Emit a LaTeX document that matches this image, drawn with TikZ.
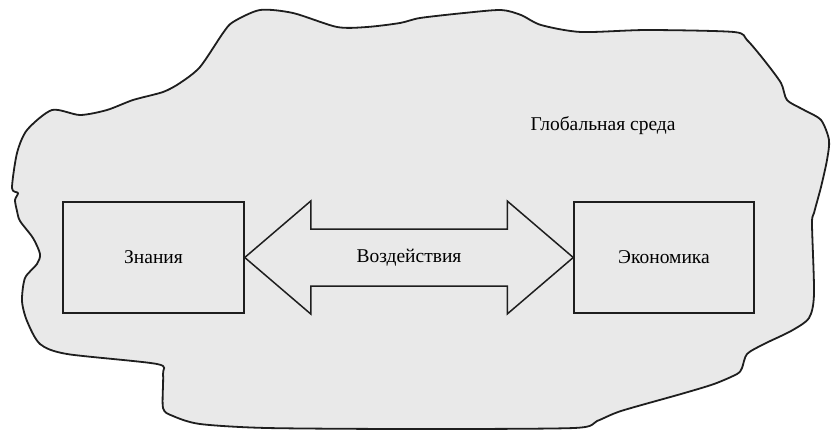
\documentclass[tikz,border=0pt]{standalone}
\usepackage{fontspec}
\setmainfont{Liberation Serif}
\usetikzlibrary{calc}
\definecolor{envgray}{HTML}{E9E9E9}
\definecolor{inkc}{HTML}{1E1E1E}
\tikzset{
  blobline/.style={draw=inkc, line width=1.8pt, fill=envgray, line join=round},
  boxnode/.style={draw=inkc, line width=1.5pt, fill=envgray, minimum width=181pt, minimum height=111pt, inner sep=0pt, font=\fontsize{19.5}{22}\selectfont},
  arrowline/.style={draw=inkc, line width=1.5pt, fill=envgray, line join=miter},
  lbl/.style={font=\fontsize{19.5}{22}\selectfont, inner sep=0pt}
}
\begin{document}
\begin{tikzpicture}[x=1pt,y=-1pt]
\useasboundingbox (0,0) rectangle (834,431);
\draw[blobline] plot[smooth cycle, tension=0.45] coordinates {
(260,10) (293,13) (337,27) (367,27) (400,23) (420,18) (464,13) (501,10) (521,15) (541,25) (581,32) (647,30) (734,32) (747,40) (764,60) (781,83) (787,100) (804,110) (821,120) (829,140) (827,160) (821,187) (814,213) (812,224) (814,294) (809,318) (791,331) (764,344) (747,354) (742,368) (737,374) (714,384) (681,394) (621,411) (597,421) (574,428) (414,429) (267,428) (200,424) (173,416) (163,408) (163,374) (157,364) (67,354) (40,344) (27,321) (22,301) (25,278) (37,264) (40,254) (33,238) (20,221) (17,211) (15,200) (18,193) (12,188) (17,153) (27,130) (52,110) (80,115) (107,110) (133,100) (163,92) (180,83) (200,67) (223,33) (233,22)};
\node[lbl] (env) at (603,126) {Глобальная среда};
\node[boxnode] (L) at (153.5,257.5) {Знания};
\node[boxnode, minimum width=180pt] (R) at (664,257.5) {Экономика};
\draw[arrowline] (L.east) -- ($(L.east)+(66,-56.5)$) -- ($(L.east)+(66,-28.5)$)
  -- ($(R.west)+(-66,-28.5)$) -- ($(R.west)+(-66,-56.5)$) -- (R.west)
  -- ($(R.west)+(-66,56.5)$) -- ($(R.west)+(-66,28.5)$)
  -- ($(L.east)+(66,28.5)$) -- ($(L.east)+(66,56.5)$) -- cycle;
\node[lbl] (act) at ($(L.east)!0.5!(R.west)$) {Воздействия};
\end{tikzpicture}
\end{document}
